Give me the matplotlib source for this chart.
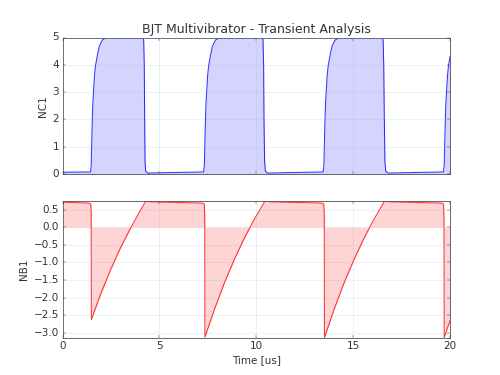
import matplotlib
matplotlib.use('Agg')
import matplotlib.pyplot as plt

# NC1 collector voltage (V) vs time (us)
t_nc1 = [0.0, 1.45, 1.48, 1.52, 1.56, 1.60, 1.65, 1.70, 1.80, 1.90, 2.05, 2.26,
         4.15, 4.19, 4.22, 4.24, 4.26, 4.29, 4.40,
         7.28, 7.32, 7.36, 7.40, 7.44, 7.49, 7.54, 7.64, 7.74, 7.89, 8.11,
         10.31, 10.35, 10.38, 10.40, 10.43, 10.47, 10.58,
         13.45, 13.49, 13.53, 13.57, 13.61, 13.66, 13.71, 13.81, 13.91, 14.06, 14.30,
         16.51, 16.55, 16.58, 16.61, 16.64, 16.68, 16.80,
         19.66, 19.70, 19.74, 19.78, 19.82, 19.87, 19.92, 20.0]
v_nc1 = [0.06, 0.07, 0.3, 1.5, 2.5, 3.0, 3.6, 3.95, 4.35, 4.68, 4.9, 5.0,
         5.0, 4.9, 4.0, 2.0, 0.5, 0.1, 0.03,
         0.07, 0.3, 1.5, 2.5, 3.0, 3.6, 3.95, 4.35, 4.68, 4.9, 5.0,
         5.0, 4.9, 4.0, 2.0, 0.5, 0.1, 0.03,
         0.07, 0.3, 1.5, 2.5, 3.0, 3.6, 3.95, 4.35, 4.68, 4.9, 5.0,
         5.0, 4.9, 4.0, 2.0, 0.5, 0.1, 0.03,
         0.07, 0.3, 1.5, 2.5, 3.0, 3.6, 3.95, 4.3]

# NB1 base voltage (V) vs time (us)
t_nb1 = [0.0, 1.30, 1.42, 1.46, 1.48, 1.49, 1.99, 2.49, 2.99, 3.49, 3.99, 4.30,
         4.60, 7.20, 7.28, 7.32, 7.34, 7.35, 7.85, 8.35, 8.85, 9.35, 9.85, 10.45,
         10.75, 13.37, 13.45, 13.49, 13.51, 13.52, 14.02, 14.52, 15.02, 15.52, 16.02, 16.62,
         16.92, 19.55, 19.63, 19.67, 19.69, 19.70, 20.0]
v_nb1 = [0.71, 0.685, 0.675, 0.64, 0.4, -2.62, -1.87, -1.2, -0.59, -0.05, 0.45, 0.74,
         0.72, 0.685, 0.675, 0.63, 0.3, -3.12, -2.32, -1.59, -0.94, -0.35, 0.18, 0.74,
         0.72, 0.685, 0.675, 0.63, 0.3, -3.13, -2.33, -1.60, -0.95, -0.36, 0.17, 0.74,
         0.72, 0.685, 0.675, 0.63, 0.3, -3.13, -2.65]

plt.style.use('classic')
plt.rcParams['figure.facecolor'] = 'white'
plt.rcParams['savefig.facecolor'] = 'white'
plt.rcParams['text.color'] = '#333333'
plt.rcParams['axes.labelcolor'] = '#333333'
plt.rcParams['xtick.color'] = '#333333'
plt.rcParams['ytick.color'] = '#333333'
plt.rcParams['axes.edgecolor'] = '#555555'

fig, (ax1, ax2) = plt.subplots(2, 1, sharex=True, figsize=(8, 6))

ax1.plot(t_nc1, v_nc1, color='b', alpha=0.8, lw=1.2)
ax1.fill_between(t_nc1, v_nc1, 0, color='b', alpha=0.17, lw=0)
ax1.set_ylim(0, 5)
ax1.set_xlim(0, 20)
ax1.set_ylabel('NC1')
ax1.set_title('BJT Multivibrator - Transient Analysis')

ax2.plot(t_nb1, v_nb1, color='r', alpha=0.8, lw=1.2)
ax2.fill_between(t_nb1, v_nb1, 0, color='r', alpha=0.17, lw=0)
ax2.set_ylim(-3.13, 0.74)
ax2.set_yticks([0.5, 0.0, -0.5, -1.0, -1.5, -2.0, -2.5, -3.0])
ax2.set_xlim(0, 20)
ax2.set_xticks([0, 5, 10, 15, 20])
ax2.set_ylabel('NB1')
ax2.set_xlabel('Time [us]')

for ax in (ax1, ax2):
    ax.grid(True, color='#6fb4c8', alpha=0.18, linestyle='-', lw=1.0)
    ax.set_axisbelow(False)

plt.setp(ax1.get_xticklabels(), visible=False)

fig.savefig('out.png', dpi=62.5)
